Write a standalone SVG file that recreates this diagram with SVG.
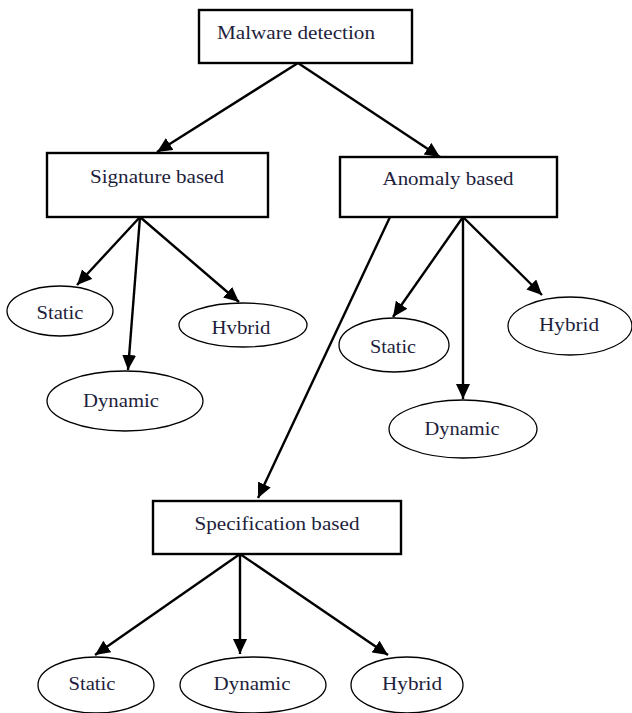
<svg xmlns="http://www.w3.org/2000/svg" width="632" height="713" viewBox="0 0 632 713">
<style>
.box{fill:#fff;stroke:#000;stroke-width:2.4}
.ell{fill:#fff;stroke:#000;stroke-width:1.3}
.lbl{font-family:'Liberation Serif',serif;font-size:19px;fill:#1e1e3c;text-anchor:middle}
.edge{stroke:#000;stroke-width:2.4;fill:none;marker-end:url(#ah)}
</style>
<defs>
<marker id="ah" markerUnits="userSpaceOnUse" markerWidth="16" markerHeight="15" refX="15" refY="7" orient="auto">
<path d="M0,0 L15,7 L0,14 z" fill="#000"/>
</marker>
</defs>
<rect width="632" height="713" fill="#fff"/>
<g id="connectors">
<line class="edge" x1="298" y1="63" x2="157" y2="152"/>
<line class="edge" x1="298" y1="63" x2="440" y2="157"/>
<line class="edge" x1="140" y1="217" x2="77" y2="285"/>
<line class="edge" x1="140" y1="217" x2="128" y2="370"/>
<line class="edge" x1="140" y1="217" x2="239" y2="302"/>
<line class="edge" x1="463" y1="217" x2="393" y2="317"/>
<line class="edge" x1="463" y1="217" x2="463" y2="399"/>
<line class="edge" x1="463" y1="217" x2="542" y2="295"/>
<line class="edge" x1="390" y1="217" x2="258" y2="498"/>
<line class="edge" x1="240" y1="554" x2="95" y2="655"/>
<line class="edge" x1="240" y1="554" x2="240" y2="654"/>
<line class="edge" x1="240" y1="554" x2="388" y2="655"/>
</g>
<g id="malware-detection">
<rect class="box" x="199" y="10" width="213" height="53"/>
<text class="lbl" x="296" y="39" textLength="158" lengthAdjust="spacingAndGlyphs">Malware detection</text>
</g>
<g id="signature-based">
<rect class="box" x="47" y="153" width="221" height="64"/>
<text class="lbl" x="157" y="183" textLength="134" lengthAdjust="spacingAndGlyphs">Signature based</text>
</g>
<g id="anomaly-based">
<rect class="box" x="340" y="157" width="217" height="60"/>
<text class="lbl" x="448" y="185" textLength="131" lengthAdjust="spacingAndGlyphs">Anomaly based</text>
</g>
<g id="specification-based">
<rect class="box" x="153" y="501" width="248" height="53"/>
<text class="lbl" x="277" y="530" textLength="165" lengthAdjust="spacingAndGlyphs">Specification based</text>
</g>
<g id="sig-static">
<ellipse class="ell" cx="60" cy="311" rx="53" ry="25"/>
<text class="lbl" x="60" y="319" textLength="47" lengthAdjust="spacingAndGlyphs">Static</text>
</g>
<g id="sig-hybrid">
<ellipse class="ell" cx="243" cy="325" rx="64" ry="22"/>
<text class="lbl" x="241" y="334" textLength="59" lengthAdjust="spacingAndGlyphs">Hvbrid</text>
</g>
<g id="sig-dynamic">
<ellipse class="ell" cx="125" cy="401" rx="78" ry="30"/>
<text class="lbl" x="121" y="407" textLength="76" lengthAdjust="spacingAndGlyphs">Dynamic</text>
</g>
<g id="anom-static">
<ellipse class="ell" cx="394" cy="345" rx="55" ry="27"/>
<text class="lbl" x="393" y="353" textLength="46" lengthAdjust="spacingAndGlyphs">Static</text>
</g>
<g id="anom-hybrid">
<ellipse class="ell" cx="570" cy="326" rx="62" ry="29"/>
<text class="lbl" x="569" y="331" textLength="60" lengthAdjust="spacingAndGlyphs">Hybrid</text>
</g>
<g id="anom-dynamic">
<ellipse class="ell" cx="463" cy="429" rx="74" ry="29"/>
<text class="lbl" x="462" y="435" textLength="75" lengthAdjust="spacingAndGlyphs">Dynamic</text>
</g>
<g id="spec-static">
<ellipse class="ell" cx="96" cy="685" rx="58" ry="28"/>
<text class="lbl" x="92" y="690" textLength="47" lengthAdjust="spacingAndGlyphs">Static</text>
</g>
<g id="spec-dynamic">
<ellipse class="ell" cx="253" cy="685" rx="73" ry="28"/>
<text class="lbl" x="252" y="690" textLength="77" lengthAdjust="spacingAndGlyphs">Dynamic</text>
</g>
<g id="spec-hybrid">
<ellipse class="ell" cx="407" cy="685" rx="56" ry="28"/>
<text class="lbl" x="412" y="690" textLength="60" lengthAdjust="spacingAndGlyphs">Hybrid</text>
</g>
</svg>
